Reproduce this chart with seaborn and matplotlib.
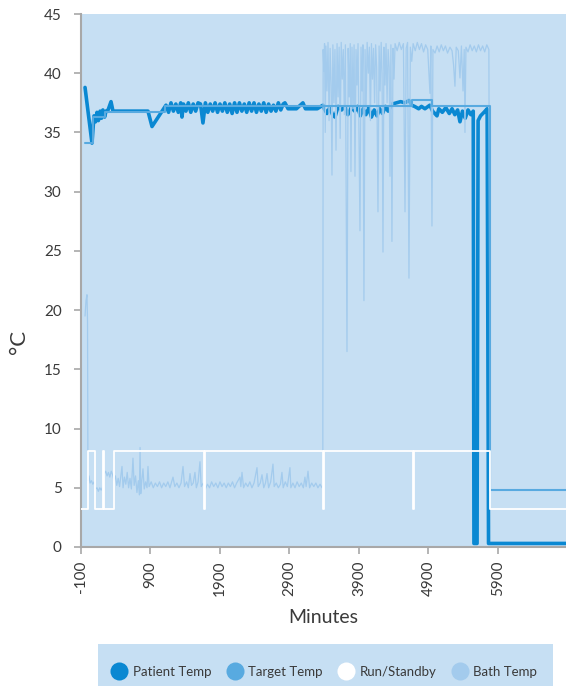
import numpy as np
import pandas as pd
import seaborn as sns
import matplotlib.pyplot as plt
from matplotlib.lines import Line2D
from matplotlib.patches import Rectangle

# ---- data (minutes, degrees C) ----
patient_time = [-42, 58, 87, 110, 130, 150, 175, 195, 215, 240, 260, 290, 332, 360, 864, 922,
                1123, 1160, 1195, 1230, 1265, 1300, 1335, 1353, 1375, 1410, 1445, 1480, 1515,
                1550, 1585, 1620, 1655, 1690, 1725, 1760, 1795, 1830, 1865, 1900, 1935, 1970,
                2005, 2040, 2075, 2110, 2145, 2180, 2215, 2250, 2285, 2320, 2355, 2390, 2425,
                2460, 2495, 2530, 2565, 2600, 2635, 2670, 2705, 2740, 2775, 2810, 2835, 2880,
                3000, 3094, 3130, 3300, 3382, 3400, 3440, 3480, 3520, 3555, 3600, 3650, 3700,
                3740, 3790, 3840, 3880, 3920, 3960, 4000, 4040, 4080, 4120, 4160, 4200, 4240,
                4280, 4320, 4380, 4440, 4500, 4560, 4620, 4660, 4700, 4760, 4800, 4850, 4920,
                4960, 5023, 5050, 5100, 5150, 5200, 5240, 5280, 5320, 5354, 5390, 5430, 5470,
                5510, 5545, 5555, 5600, 5615, 5650, 5700, 5745, 5765, 6880]
patient_temp = [38.8, 34.1, 36.4, 35.9, 36.7, 36.0, 36.8, 36.2, 36.9, 36.3, 36.8, 36.9, 37.6, 36.8, 36.8, 35.5,
                37.3, 36.7, 37.5, 36.8, 37.4, 36.7, 37.5, 36.3, 37.4, 36.8, 37.5, 36.7, 37.4,
                36.8, 37.5, 37.4, 35.8, 37.5, 36.7, 37.4, 36.8, 37.5, 36.7, 37.4, 36.8, 37.5,
                36.7, 37.4, 36.6, 37.5, 36.7, 37.5, 36.8, 37.4, 36.7, 37.5, 36.8, 37.5, 36.7,
                37.4, 36.8, 37.5, 36.7, 37.4, 36.8, 37.3, 36.8, 37.5, 36.9, 37.4, 37.5, 37.0,
                37.0, 37.5, 37.0, 37.0, 37.3, 37.0, 36.6, 37.1, 36.5, 36.3, 37.2, 36.9, 37.2,
                36.5, 37.1, 36.8, 37.2, 36.4, 37.0, 36.5, 37.1, 36.3, 36.9, 36.4, 37.0, 36.6,
                37.2, 36.8, 37.4, 37.5, 37.6, 37.5, 37.7, 37.3, 37.2, 37.0, 37.2, 37.0, 37.3,
                36.8, 36.4, 37.0, 36.7, 37.1, 36.6, 37.0, 36.5, 36.9, 35.9, 36.8, 36.2, 36.9,
                36.5, 36.8, 0.3, 0.3, 36.0, 36.4, 36.7, 37.0, 0.3, 0.3]

target_time = [-40, 73, 245, 1109, 4663, 4951, 5786, 6880]
target_temp = [34.1, 36.3, 36.7, 37.2, 37.7, 37.2, 4.8, 4.8]

run_time = [-100, 0, 101, 217, 231, 375, 1670, 1684, 3382, 3396, 4677, 4691, 5785, 6880]
run_level = [3.2, 8.1, 3.2, 8.1, 3.2, 8.1, 3.2, 8.1, 3.2, 8.1, 3.2, 8.1, 3.2, 3.2]

bath_time = [-42, -28, -14, -6, 0, 15, 30, 50, 70, 90, 110, 130, 150, 170, 190, 215, 235, 255,
             275, 295, 315, 335, 355, 375, 395, 415, 435, 455, 475, 490, 505, 525, 545, 565,
             585, 605, 625, 648, 665, 685, 705, 725, 740, 750, 760, 775, 792, 810, 830, 850,
             864, 880, 910, 940, 970, 1000, 1030, 1060, 1090, 1120, 1150, 1180, 1224, 1250,
             1280, 1310, 1340, 1368, 1390, 1420, 1445, 1469, 1490, 1515, 1540, 1560, 1585,
             1612, 1630, 1660, 1690, 1720, 1750, 1780, 1810, 1840, 1870, 1900, 1930, 1960,
             1990, 2020, 2050, 2080, 2110, 2140, 2188, 2200, 2217, 2240, 2270, 2300, 2330,
             2360, 2390, 2433, 2450, 2480, 2505, 2530, 2555, 2577, 2600, 2630, 2663, 2680,
             2710, 2740, 2770, 2792, 2810, 2840, 2870, 2907, 2920, 2950, 2980, 3010, 3040,
             3070, 3100, 3123, 3140, 3167, 3190, 3220, 3250, 3280, 3310, 3340, 3370, 3380,
             3385, 3395, 3405, 3415, 3425, 3440, 3455, 3470, 3485, 3500, 3512, 3525, 3540,
             3555, 3570, 3585, 3600, 3615, 3630, 3645, 3660, 3675, 3690, 3705, 3728, 3745,
             3760, 3775, 3785, 3800, 3815, 3830, 3843, 3858, 3872, 3887, 3900, 3915, 3930,
             3945, 3958, 3972, 3988, 4003, 4018, 4035, 4050, 4065, 4080, 4095, 4110, 4125,
             4140, 4155, 4174, 4190, 4205, 4220, 4233, 4246, 4260, 4275, 4290, 4305, 4320,
             4335, 4347, 4360, 4375, 4390, 4405, 4420, 4450, 4480, 4510, 4540, 4563, 4580,
             4600, 4620, 4640, 4660, 4680, 4710, 4740, 4770, 4800, 4830, 4860, 4890, 4922,
             4935, 4951, 4965, 4995, 5025, 5055, 5085, 5115, 5145, 5175, 5210, 5240, 5262,
             5282, 5300, 5330, 5354, 5375, 5398, 5415, 5426, 5440, 5470, 5500, 5530, 5560,
             5590, 5620, 5650, 5680, 5710, 5740, 5770, 5790, 6880]
bath_temp = [19.5, 20.8, 21.3, 19.0, 5.6, 6.0, 5.4, 5.6, 5.3, 5.5, 4.9, 5.0, 4.7, 5.0, 4.8, 5.1, 6.2, 6.4,
             6.0, 6.3, 5.9, 6.4, 6.1, 5.6, 6.0, 5.2, 5.8, 5.1, 6.1, 6.8, 5.0, 5.9, 5.3, 6.3,
             5.0, 5.8, 4.9, 7.5, 5.2, 6.0, 4.6, 5.6, 4.4, 8.4, 4.5, 5.6, 6.6, 4.9, 5.5, 5.0,
             6.8, 5.1, 5.5, 5.0, 5.4, 5.1, 5.5, 5.0, 5.4, 5.1, 5.5, 5.0, 5.9, 5.1,
             5.4, 5.0, 5.4, 6.8, 5.1, 5.5, 5.0, 6.2, 5.2, 5.4, 6.3, 5.0, 5.5,
             7.2, 5.1, 5.4, 4.9, 5.3, 5.0, 5.5, 5.1, 5.4, 5.0, 5.5, 5.1, 5.4,
             5.0, 5.4, 5.1, 5.5, 5.0, 5.4, 5.9, 5.1, 6.3, 5.0, 5.4, 5.1, 5.5,
             5.0, 5.4, 6.7, 5.1, 5.4, 6.1, 5.0, 5.4, 6.2, 5.0, 5.5, 7.0, 5.1,
             5.4, 5.0, 5.3, 6.3, 5.0, 5.5, 5.1, 6.7, 5.0, 5.4, 5.0, 5.5, 5.1,
             5.4, 5.0, 5.9, 5.1, 6.4, 5.0, 5.4, 5.1, 5.4, 5.0, 5.3, 5.0, 5.2,
             42.0, 40.2, 42.5, 35.0, 42.3, 38.5, 42.6, 36.0, 42.1, 39.0, 31.4, 42.4, 37.5,
             42.0, 33.5, 42.5, 38.0, 42.2, 34.5, 42.6, 39.5, 42.0, 36.5, 42.4, 16.5, 42.1,
             38.0, 42.5, 31.7, 42.2, 37.0, 42.4, 31.3, 42.0, 39.0, 42.5, 35.5, 26.7, 42.2,
             38.5, 42.4, 20.8, 42.0, 37.0, 42.6, 40.0, 42.2, 36.0, 42.5, 39.5, 42.1, 37.5,
             42.4, 40.5, 28.3, 42.3, 38.5, 42.6, 40.0, 24.9, 42.2, 39.0, 42.5, 37.5, 42.0,
             40.5, 31.3, 42.4, 25.8, 42.1, 39.5, 42.5, 41.9, 42.6, 42.0, 42.5, 28.3, 42.1,
             42.6, 22.7, 42.2, 41.0, 42.5, 41.9, 42.6, 42.0, 42.5, 41.8, 42.4, 42.0, 38.3,
             42.3, 27.1, 42.0, 41.7, 42.3, 41.8, 42.4, 41.9, 42.3, 41.7, 42.2, 41.9, 40.7,
             38.9, 42.2, 41.9, 39.6, 42.3, 38.5, 42.0, 35.0, 42.2, 41.8, 42.4, 41.9, 42.3,
             41.8, 42.4, 41.9, 42.3, 41.8, 42.4, 42.0, 4.8, 4.8]

x_ticks = [-100, 900, 1900, 2900, 3900, 4900, 5900]
y_ticks = [0, 5, 10, 15, 20, 25, 30, 35, 40, 45]
legend_labels = ['Patient Temp', 'Target Temp', 'Run/Standby', 'Bath Temp']

# ---- styling ----
panel = '#c6dff3'
c_patient = '#0a88d2'
c_target = '#58aae0'
c_run = '#ffffff'
c_bath = '#a3cbed'
txt = '#3a3a3a'
spine = '#a8a8a8'

sns.set_theme(style='white')
plt.rcParams['font.family'] = ['Lato', 'DejaVu Sans']

fig = plt.figure(figsize=(5.66, 6.86), dpi=100)
ax = fig.add_axes([81 / 566, 1 - 547 / 686, 1 - 81 / 566, (547 - 14) / 686])
ax.set_facecolor(panel)

sns.lineplot(x=patient_time, y=patient_temp, ax=ax, color=c_patient, lw=2.6,
             estimator=None, sort=False, zorder=2)
sns.lineplot(x=bath_time, y=bath_temp, ax=ax, color=c_bath, lw=0.9,
             estimator=None, sort=False, zorder=3)
sns.lineplot(x=target_time, y=target_temp, ax=ax, color=c_target, lw=1.5,
             estimator=None, sort=False, drawstyle='steps-post', zorder=4)
sns.lineplot(x=run_time, y=run_level, ax=ax, color=c_run, lw=1.3,
             estimator=None, sort=False, drawstyle='steps-post', zorder=5)

ax.set_xlim(-100, 6880)
ax.set_ylim(0, 45)
ax.set_xticks(x_ticks)
ax.set_yticks(y_ticks)
ax.set_xticklabels([str(v) for v in x_ticks], rotation=90)
ax.tick_params(axis='both', colors=spine, labelcolor=txt, labelsize=11,
               length=5, width=1.2, direction='out')
ax.tick_params(axis='y', pad=9)
ax.tick_params(axis='x', pad=5)
ax.tick_params(bottom=True, left=True)

for s in ['top', 'right']:
    ax.spines[s].set_visible(False)
for s in ['left', 'bottom']:
    ax.spines[s].set_color(spine)
    ax.spines[s].set_linewidth(1.5)

ax.set_xlabel('Minutes', fontsize=14, color=txt, labelpad=9)
ax.set_ylabel('°C', fontsize=16, color=txt, rotation=90)
ax.yaxis.set_label_coords(-0.108, 0.385)

# legend strip along the bottom
fig.patches.append(Rectangle((98 / 566, 0), (553 - 98) / 566, 42 / 686,
                             transform=fig.transFigure, facecolor=panel,
                             edgecolor='none', zorder=0))
handles = [Line2D([], [], ls='none', marker='o', markersize=13, markeredgewidth=0,
                  markerfacecolor=c) for c in [c_patient, c_target, c_run, c_bath]]
fig.legend(handles, legend_labels, loc='center', bbox_to_anchor=(325 / 566, 14 / 686),
           ncol=4, frameon=False, fontsize=9.5, handletextpad=0.5, columnspacing=1.3,
           labelcolor=txt, handlelength=1.0)

fig.savefig('out.png', dpi=100)
